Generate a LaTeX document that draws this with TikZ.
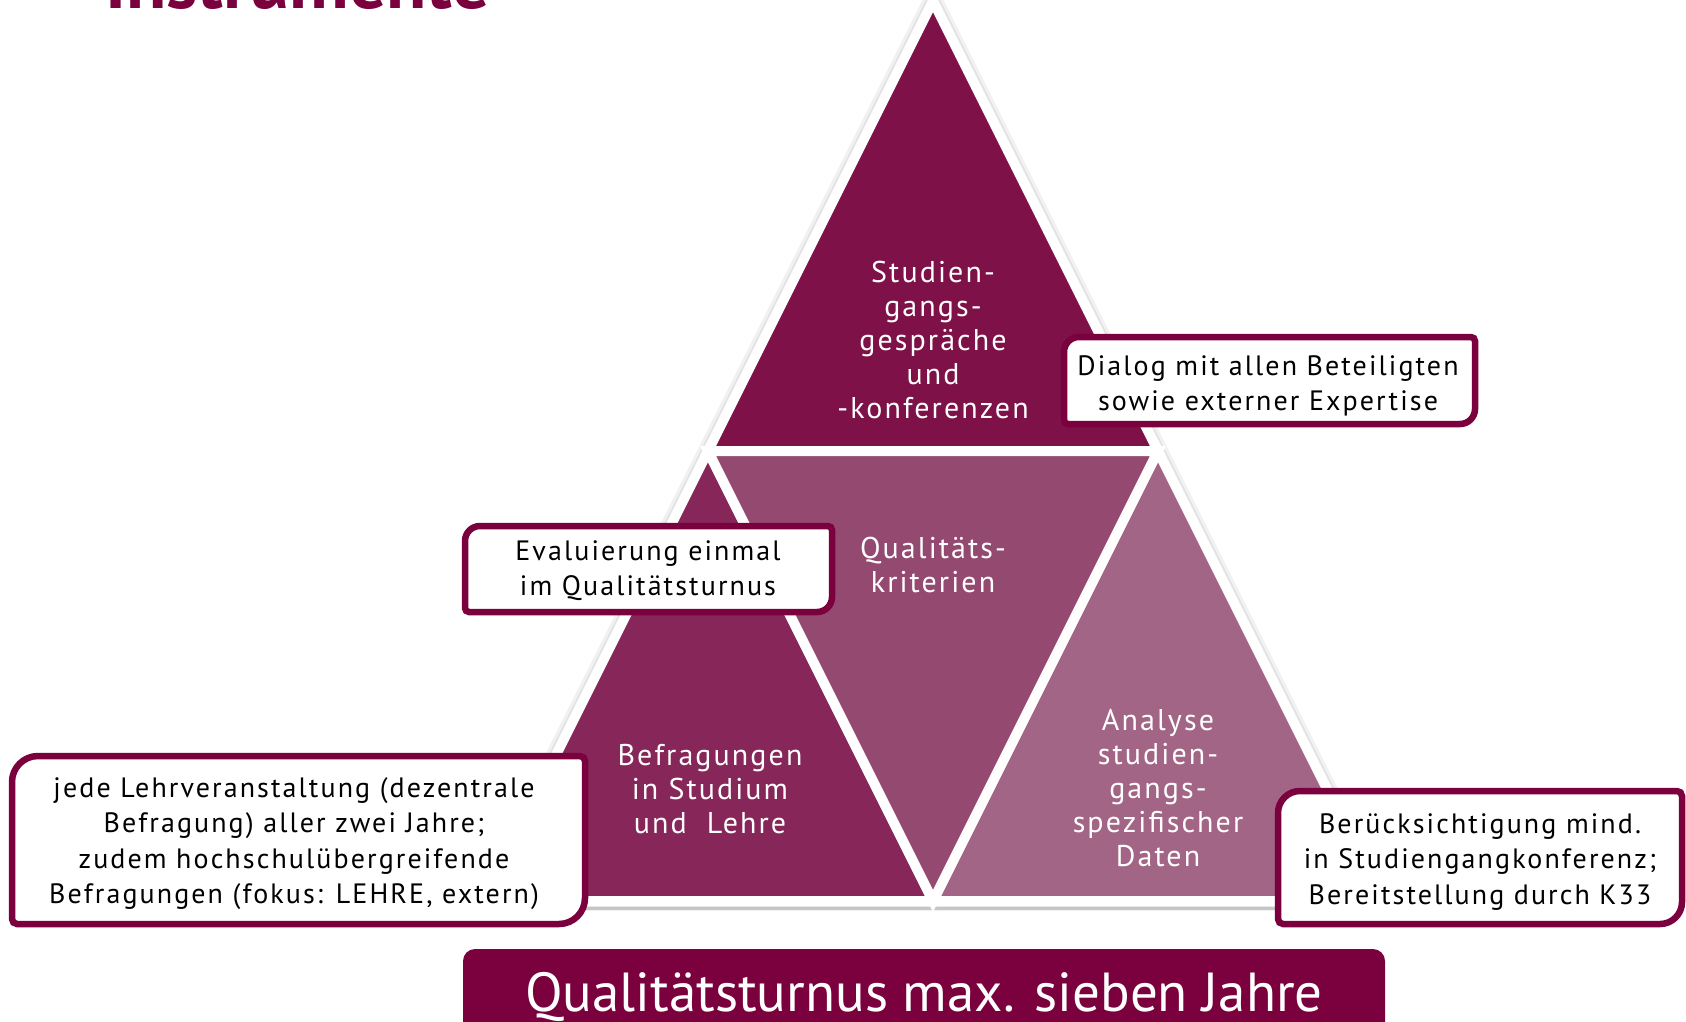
\documentclass[tikz,border=0pt]{standalone}
\usepackage{fontspec}
\setmainfont{PT Sans}
\newfontfamily\notefont[LetterSpace=7.5]{PT Sans}
\newfontfamily\trifont[LetterSpace=7]{PT Sans}
\definecolor{plum}{HTML}{7A003E}
\definecolor{triTop}{HTML}{7D1148}
\definecolor{triLeft}{HTML}{872658}
\definecolor{triMid}{HTML}{944970}
\definecolor{triRight}{HTML}{A26585}

% frame with rounded top-left / bottom-right corners
% #1,#2 = upper-left corner, #3,#4 = lower-right corner, #5 = big radius, #6 = small radius
\newcommand\calloutframe[6]{%
  \draw[boxframe] (#1,{(#2+#4)/2}) [rounded corners=#5] |- ({(#1+#3)/2},#2)
    [rounded corners=#6] -| (#3,{(#2+#4)/2})
    [rounded corners=#5] |- ({(#1+#3)/2},#4)
    [rounded corners=#6] -| (#1,{(#2+#4)/2}) [sharp corners] -- cycle;}

\begin{document}
\begin{tikzpicture}[x=1pt,y=-1pt,
  tri/.style={draw=white, line width=10pt, line join=miter},
  boxframe/.style={draw=plum, line width=6.5pt, fill=white},
  trilabel/.style={text=white, font={\trifont\fontsize{30}{34}\selectfont}, align=center,
    inner sep=0pt, anchor=north, execute at begin node=\strut, execute at end node=\strut},
  notelabel/.style={text=black, font={\notefont\fontsize{28}{35.5}\selectfont}, align=center,
    inner sep=0pt, anchor=north, execute at begin node=\strut, execute at end node=\strut},
  banner/.style={fill=plum, rounded corners=12pt}]

\useasboundingbox (0,0) rectangle (1686,1021);

% heading, mostly above the page
\node[anchor=base west, inner sep=0pt, text=plum, font={\fontsize{74}{78}\selectfont\bfseries}]
  (heading) at (105,8) {Instrumente};

% corner points of the pyramid
\coordinate (apex) at (933,1);
\coordinate (bl) at (483,901);
\coordinate (br) at (1383,901);
\coordinate (ml) at (708,451);
\coordinate (mr) at (1158,451);
\coordinate (mb) at (933,901);

% soft outline and base shadow
\draw[gray!10, line width=20pt, line join=miter] (apex) -- (bl) -- (br) -- cycle;
\draw[gray!22, line width=14pt, line join=miter] (apex) -- (bl) -- (br) -- cycle;
\draw[gray!45, line width=3pt] (488,908) -- (1378,908);

% the four parts
\filldraw[tri, fill=triTop] (apex) -- (ml) -- (mr) -- cycle;
\filldraw[tri, fill=triLeft] (ml) -- (bl) -- (mb) -- cycle;
\filldraw[tri, fill=triRight] (mr) -- (mb) -- (br) -- cycle;
\filldraw[tri, fill=triMid] (ml) -- (mr) -- (mb) -- cycle;

% labels inside the pyramid
\node[trilabel] (gespraeche) at (933,261) {Studien-\\gangs-\\gespräche\\und\\-konferenzen};
\node[trilabel] (kriterien) at (933,537) {Qualitäts-\\kriterien};
\node[trilabel] (befragungen) at (710,744) {Befragungen\\in Studium\\und\ \ Lehre};
\node[trilabel] (analyse) at (1158,709) {Analyse\\studien-\\gangs-\\spezifischer\\Daten};

% callouts
\calloutframe{1064}{337}{1475}{424}{15pt}{4pt}
\node[notelabel] (dialog) at (1268,355) {Dialog mit allen Beteiligten\\sowie externer Expertise};

\calloutframe{465}{526}{832}{612}{15pt}{4pt}
\node[notelabel] (evaluierung) at (648,540) {Evaluierung einmal\\im Qualitätsturnus};

\calloutframe{12}{756}{585}{924}{26pt}{5pt}
\node[notelabel] (lehrveranstaltung) at (294,777) {jede Lehrveranstaltung (dezentrale\\Befragung) aller zwei Jahre;\\zudem hochschulübergreifende\\Befragungen (fokus: LEHRE, extern)};

\calloutframe{1278}{791}{1682}{924}{22pt}{5pt}
\node[notelabel] (bereitstellung) at (1480,813) {Berücksichtigung mind.\\in Studiengangkonferenz;\\Bereitstellung durch K33};

% bottom banner
\fill[banner] (463,949) rectangle (1385,1040);
\node[anchor=base, inner sep=0pt, text=white, font={\fontsize{55}{60}\selectfont}]
  (turnus) at (924,1011) {Qualitätsturnus max. sieben Jahre};

\end{tikzpicture}
\end{document}
